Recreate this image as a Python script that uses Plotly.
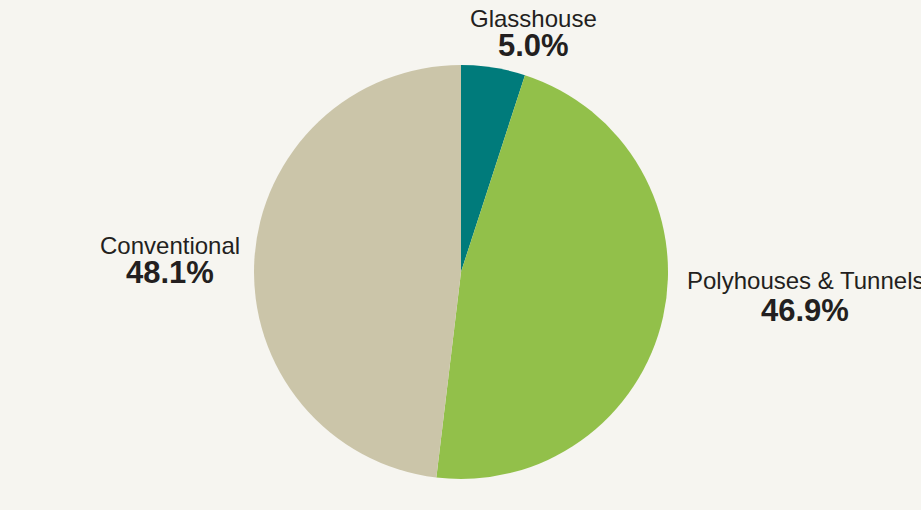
import plotly.graph_objects as go

# Data
categories = ["Glasshouse", "Polyhouses & Tunnels", "Conventional"]
shares = [5.0, 46.9, 48.1]
colors = ["#007b7b", "#92c04a", "#cbc5a9"]

W, H = 921, 510
cx, cy, r = 461, 272, 207

fig = go.Figure(go.Pie(
    labels=categories,
    values=shares,
    sort=False,
    direction="clockwise",
    rotation=0,
    marker=dict(colors=colors, line=dict(width=0)),
    textinfo="none",
    hoverinfo="label+percent",
    showlegend=False,
    domain=dict(x=[(cx - r) / W, (cx + r) / W],
                y=[1 - (cy + r) / H, 1 - (cy - r) / H]),
))

# label placement (pixel centres of name line and value line), same order as categories
label_pos = [(533, 19, 45), (805, 280, 310), (170, 245, 272)]
txt_color = "#231f20"
for name, val, (x, yn, yv) in zip(categories, shares, label_pos):
    fig.add_annotation(x=x / W, y=1 - yn / H, xref="paper", yref="paper",
                       text=name, showarrow=False, xanchor="center", yanchor="middle",
                       font=dict(family="Liberation Sans, Arial", size=24, color=txt_color))
    fig.add_annotation(x=x / W, y=1 - yv / H, xref="paper", yref="paper",
                       text=f"<b>{val:.1f}%</b>", showarrow=False, xanchor="center", yanchor="middle",
                       font=dict(family="Liberation Sans, Arial", size=31, color=txt_color))

fig.update_layout(
    width=W, height=H,
    margin=dict(l=0, r=0, t=0, b=0),
    paper_bgcolor="#f6f5f0",
    plot_bgcolor="#f6f5f0",
)

fig.write_html(
    "out.html",
    config={"displayModeBar": False},
    post_script="document.body.style.margin='0';document.body.style.overflow='hidden';"
                "document.body.style.background='#f6f5f0';",
)
